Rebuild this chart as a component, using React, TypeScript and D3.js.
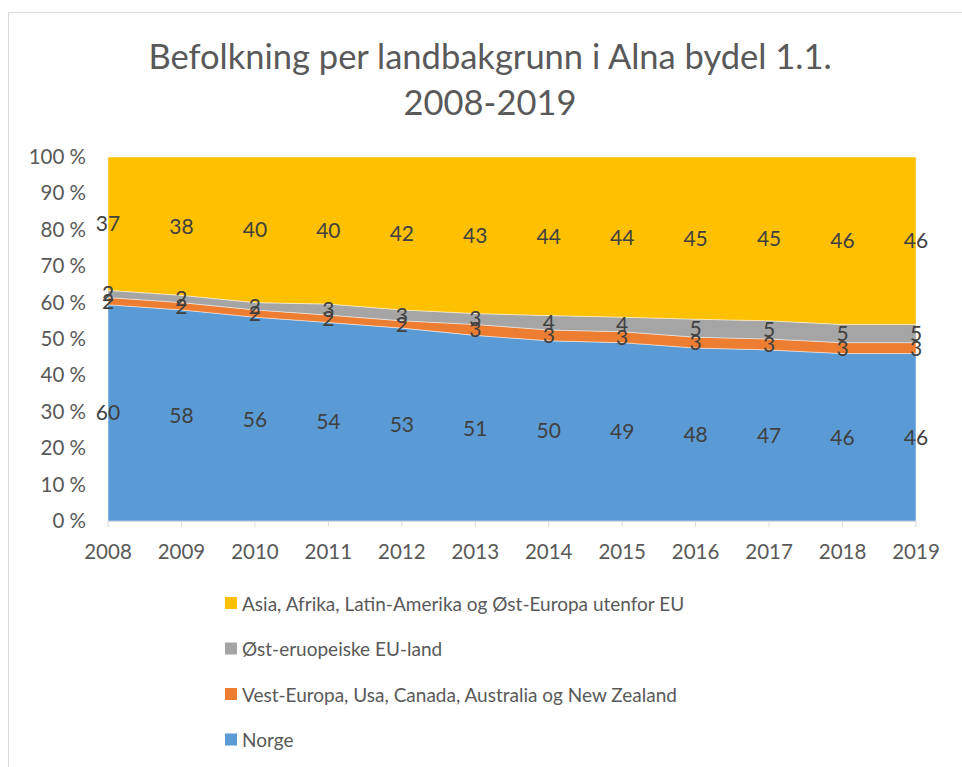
import React from "react";
import * as d3 from "d3";

const years = ["2008","2009","2010","2011","2012","2013","2014","2015","2016","2017","2018","2019"];
const norge = [60,58,56,54,53,51,50,49,48,47,46,46];
const vestEuropa = [2,2,2,2,2,3,3,3,3,3,3,3];
const ostEU = [2,2,2,3,3,3,4,4,5,5,5,5];
const asiaAfrika = [37,38,40,40,42,43,44,44,45,45,46,46];
const yTicks = [0,10,20,30,40,50,60,70,80,90,100];

const seriesNames = [
  "Norge",
  "Vest-Europa, Usa, Canada, Australia og New Zealand",
  "Øst-eruopeiske EU-land",
  "Asia, Afrika, Latin-Amerika og Øst-Europa utenfor EU",
];
const seriesData = [norge, vestEuropa, ostEU, asiaAfrika];
const colors = ["#5B9BD5", "#ED7D31", "#A5A5A5", "#FFC000"];

const FONT = "Lato, 'Open Sans', sans-serif";
const TXT = "#595959";

export default function App() {
  const width = 962, height = 767;
  const left = 108, right = 916, top = 157, bottom = 521;
  const rows = years.map((y, i) => {
    const r: any = { year: y };
    seriesNames.forEach((n, k) => (r[n] = seriesData[k][i]));
    return r;
  });
  const stack = d3.stack<any>().keys(seriesNames).offset(d3.stackOffsetExpand);
  const layers = stack(rows);
  const x = d3.scalePoint<string>().domain(years).range([left, right]);
  const y = d3.scaleLinear().domain([0, 1]).range([bottom, top]);
  const area = d3.area<any>()
    .x((d) => x(d.data.year)!)
    .y0((d) => y(d[0]))
    .y1((d) => y(d[1]));
  const legendOrder = [3, 2, 1, 0];
  return (
    <svg width={width} height={height} style={{ position: "absolute", left: 0, top: 0 }} fontFamily={FONT}>
      <rect x={0} y={0} width={width} height={height} fill="#fff" />
      <rect x={8.5} y={12.5} width={width} height={height} fill="none" stroke="#D9D9D9" />
      <text x={490} y={69} textAnchor="middle" fontSize={34.5} fill={TXT}>Befolkning per landbakgrunn i Alna bydel 1.1.</text>
      <text x={490} y={115} textAnchor="middle" fontSize={34.5} fill={TXT}>2008-2019</text>
      {layers.map((layer, k) => (
        <path key={k} d={area(layer as any)!} fill={colors[k]} stroke="#fff" strokeOpacity={0.6} strokeWidth={0.75} />
      ))}
      <line x1={left} x2={right} y1={bottom + 0.5} y2={bottom + 0.5} stroke="#D9D9D9" />
      {years.map((yr) => (
        <line key={yr} x1={x(yr)!} x2={x(yr)!} y1={bottom} y2={bottom + 6} stroke="#D9D9D9" />
      ))}
      {yTicks.map((t) => (
        <text key={t} x={86} y={y(t / 100) + 7} textAnchor="end" fontSize={20.5} fill={TXT}>{`${t} %`}</text>
      ))}
      {years.map((yr) => (
        <text key={yr} x={x(yr)!} y={559} textAnchor="middle" fontSize={20.5} fill={TXT}>{yr}</text>
      ))}
      {layers.map((layer, k) =>
        layer.map((d: any, i: number) => (
          <text key={`${k}-${i}`} x={x(d.data.year)!} y={y((d[0] + d[1]) / 2) + 7.5} textAnchor="middle" fontSize={21} fill="#404040">
            {seriesData[k][i]}
          </text>
        ))
      )}
      {legendOrder.map((k, j) => (
        <g key={k} transform={`translate(225, ${597 + j * 45.5})`}>
          <rect x={0} y={0} width={12} height={12} fill={colors[k]} />
          <text x={17} y={13.5} fontSize={19} fill={TXT}>{seriesNames[k]}</text>
        </g>
      ))}
    </svg>
  );
}
